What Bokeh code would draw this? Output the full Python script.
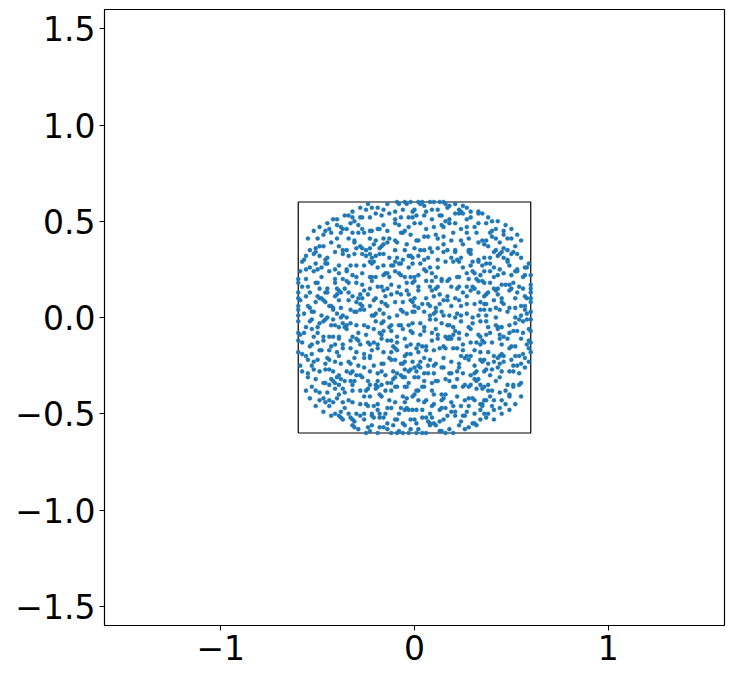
from bokeh.plotting import figure
from bokeh.models import Range1d, FixedTicker
from bokeh.embed import file_html
from bokeh.resources import INLINE

# ---------------- data ----------------
x_ticks = [-1, 0, 1]
x_tick_labels = ["\u22121", "0", "1"]
y_ticks = [-1.5, -1.0, -0.5, 0.0, 0.5, 1.0, 1.5]
y_tick_labels = ["\u22121.5", "\u22121.0", "\u22120.5", "0.0", "0.5", "1.0", "1.5"]

box_x = [-0.6, 0.6, 0.6, -0.6, -0.6]
box_y = [-0.6, -0.6, 0.6, 0.6, -0.6]

band_t1 = [(-.32,.55),(-.28,.57),(-.25,.56),(-.22,.57),(-.19,.57),(-.16,.56),(-.14,.59),(-.10,.55),(-.08,.59),(-.06,.56),(-.04,.59),(-.01,.55),(.00,.56),(.03,.59),(.05,.58),(.06,.55),(.09,.56),(.12,.56),(.16,.59),(.17,.57),(.18,.58),(.21,.59),(.23,.56),(.24,.55),(.25,.58),(.29,.55),(.33,.55),(-.24,.59),(.27,.57)]
edge_top = [(-.09,.60),(-.05,.60),(-.02,.60),(.02,.60),(.04,.60),(.08,.60),(.10,.60),(.13,.60),(.15,.60)]
band_t2 = [(-.40,.51),(-.36,.53),(-.34,.53),(-.32,.52),(-.31,.50),(-.28,.52),(-.27,.52),(-.23,.52),(-.20,.54),(-.17,.53),(-.13,.54),(-.10,.51),(-.07,.52),(-.03,.52),(-.01,.52),(.01,.53),(.05,.53),(.09,.51),(.13,.53),(.14,.53),(.16,.50),(.18,.51),(.21,.54),(.23,.54),(.25,.54),(.27,.51),(.29,.52),(.33,.54),(.35,.54),(.38,.52),(.40,.50)]
band_t3 = [(-.46,.45),(-.44,.46),(-.40,.48),(-.38,.47),(-.37,.46),(-.35,.46),(-.33,.49),(-.29,.48),(-.27,.46),(-.23,.45),(-.22,.45),(-.19,.46),(-.18,.46),(-.16,.48),(-.14,.45),(-.10,.49),(-.08,.48),(-.05,.45),(-.03,.47),(.00,.49),(.03,.49),(.06,.46),(.10,.47),(.14,.48),(.15,.47),(.18,.49),(.21,.49),(.24,.46),(.27,.47),(.31,.47),(.33,.49),(.37,.49),(.40,.45),(.42,.46),(.46,.45)]
band_t4 = [(-.50,.41),(-.47,.43),(-.43,.44),(-.40,.41),(-.38,.44),(-.34,.41),(-.32,.44),(-.31,.40),(-.29,.44),(-.26,.44),(-.23,.41),(-.20,.40),(-.16,.41),(-.13,.41),(-.10,.40),(-.07,.44),(-.06,.44),(-.02,.43),(.01,.40),(.02,.40),(.05,.42),(.07,.42),(.11,.43),(.12,.41),(.15,.42),(.19,.40),(.20,.44),(.24,.40),(.27,.44),(.28,.41),(.32,.44),(.35,.40),(.37,.40),(.39,.44),(.40,.42),(.42,.41),(.46,.43),(.48,.41),(.50,.41)]
band_t5 = [(-.54,.35),(-.51,.36),(-.49,.37),(-.47,.37),(-.43,.39),(-.39,.37),(-.37,.35),(-.35,.35),(-.31,.39),(-.30,.36),(-.28,.37),(-.27,.36),(-.25,.35),(-.23,.36),(-.21,.38),(-.18,.36),(-.17,.37),(-.16,.38),(-.14,.39),(-.10,.35),(-.09,.39),(-.05,.35),(-.04,.38),(.00,.36),(.03,.35),(.05,.35),(.08,.36),(.12,.36),(.15,.38),(.17,.35),(.21,.35),(.25,.38),(.28,.35),(.29,.35),(.33,.39),(.36,.38),(.38,.37),(.42,.35),(.44,.39),(.46,.36),(.48,.35),(.52,.37)]
band_t6 = [(-.56,.32),(-.52,.33),(-.51,.34),(-.49,.32),(-.46,.30),(-.45,.31),(-.41,.34),(-.37,.33),(-.34,.32),(-.31,.33),(-.27,.33),(-.25,.32),(-.23,.33),(-.22,.31),(-.20,.32),(-.18,.33),(-.16,.33),(-.13,.31),(-.09,.31),(-.06,.30),(-.03,.32),(-.02,.32),(-.01,.31),(.02,.32),(.05,.30),(.07,.31),(.09,.34),(.12,.30),(.15,.34),(.19,.31),(.21,.34),(.22,.30),(.24,.31),(.28,.34),(.29,.33),(.33,.30),(.36,.31),(.39,.31),(.41,.34),(.43,.32),(.44,.33),(.45,.34),(.46,.31),(.48,.30),(.50,.33),(.51,.34),(.53,.33),(.55,.31),(-.57,.30)]
band_t7 = [(-.58,.29),(-.56,.25),(-.54,.26),(-.51,.28),(-.50,.25),(-.48,.26),(-.46,.28),(-.45,.28),(-.41,.25),(-.39,.27),(-.35,.25),(-.33,.27),(-.30,.27),(-.26,.27),(-.23,.29),(-.22,.28),(-.21,.29),(-.19,.26),(-.16,.27),(-.12,.27),(-.11,.27),(-.10,.29),(-.08,.28),(-.07,.28),(-.03,.26),(-.01,.28),(.03,.28),(.05,.25),(.08,.26),(.12,.26),(.16,.29),(.20,.29),(.23,.29),(.25,.26),(.29,.27),(.30,.29),(.33,.29),(.35,.27),(.37,.28),(.39,.28),(.41,.26),(.44,.25),(.48,.29),(.49,.27),(.53,.25),(.57,.26),(.58,.26),(.59,.28)]
band_t8 = [(-.60,.20),(-.59,.24),(-.56,.20),(-.52,.24),(-.48,.21),(-.44,.24),(-.41,.20),(-.39,.23),(-.37,.20),(-.35,.24),(-.32,.22),(-.30,.21),(-.27,.23),(-.23,.21),(-.22,.21),(-.20,.21),(-.16,.22),(-.15,.23),(-.14,.23),(-.13,.21),(-.10,.24),(-.08,.23),(-.07,.22),(-.05,.21),(-.02,.21),(.00,.21),(.02,.22),(.06,.24),(.09,.23),(.11,.21),(.14,.20),(.18,.20),(.22,.21),(.23,.21),(.27,.23),(.28,.20),(.30,.24),(.31,.23),(.32,.20),(.34,.22),(.36,.24),(.39,.24),(.41,.21),(.43,.22),(.46,.23),(.50,.22),(.52,.24),(.53,.24),(.56,.21),(.57,.22),(.60,.22)]
band_t9 = [(-.58,.16),(-.55,.16),(-.51,.18),(-.50,.18),(-.49,.15),(-.45,.15),(-.41,.18),(-.40,.15),(-.36,.15),(-.35,.19),(-.34,.18),(-.30,.18),(-.27,.17),(-.23,.15),(-.22,.19),(-.19,.16),(-.17,.16),(-.14,.15),(-.12,.17),(-.08,.16),(-.04,.18),(-.01,.18),(.00,.19),(.02,.16),(.06,.19),(.08,.16),(.09,.19),(.11,.15),(.12,.16),(.14,.19),(.17,.19),(.19,.16),(.22,.15),(.23,.16),(.27,.16),(.30,.16),(.31,.15),(.33,.19),(.35,.19),(.36,.18),(.39,.18),(.41,.15),(.43,.15),(.45,.17),(.47,.17),(.49,.17),(.50,.15),(.51,.18),(.54,.16),(.56,.15),(.60,.17),(-.60,.18),(.60,.15)]
band_t10 = [(-.60,.10),(-.56,.11),(-.54,.13),(-.50,.11),(-.49,.10),(-.48,.10),(-.46,.13),(-.45,.13),(-.41,.11),(-.40,.12),(-.39,.14),(-.38,.13),(-.34,.13),(-.32,.11),(-.29,.10),(-.28,.12),(-.27,.10),(-.26,.14),(-.24,.12),(-.20,.10),(-.16,.14),(-.15,.11),(-.12,.12),(-.09,.13),(-.07,.12),(-.04,.14),(-.03,.12),(.00,.10),(.02,.14),(.06,.10),(.09,.14),(.10,.11),(.13,.12),(.17,.11),(.21,.10),(.25,.13),(.27,.11),(.29,.14),(.33,.13),(.36,.11),(.37,.12),(.38,.13),(.42,.14),(.43,.12),(.45,.10),(.49,.14),(.52,.10),(.53,.13),(.57,.11),(.58,.10),(.60,.10),(-.60,.13),(.60,.13)]
band_t11 = [(-.59,.09),(-.55,.06),(-.54,.05),(-.51,.08),(-.47,.09),(-.46,.08),(-.44,.06),(-.43,.06),(-.42,.05),(-.39,.09),(-.38,.05),(-.34,.09),(-.30,.08),(-.28,.07),(-.27,.06),(-.23,.06),(-.21,.09),(-.17,.08),(-.15,.07),(-.14,.06),(-.10,.08),(-.06,.08),(-.02,.09),(-.01,.08),(.00,.06),(.02,.05),(.04,.07),(.07,.07),(.08,.06),(.11,.05),(.13,.07),(.15,.09),(.17,.09),(.19,.06),(.23,.09),(.24,.06),(.27,.07),(.31,.07),(.34,.08),(.36,.07),(.37,.07),(.41,.09),(.42,.05),(.45,.08),(.46,.07),(.49,.05),(.52,.05),(.55,.06),(.57,.06),(.60,.08),(-.60,.06)]
band_t12 = [(-.60,.04),(-.57,.02),(-.53,.03),(-.52,.03),(-.48,.01),(-.45,.00),(-.42,.04),(-.40,.02),(-.38,.00),(-.37,.01),(-.35,.00),(-.33,.04),(-.31,.03),(-.30,.03),(-.28,.04),(-.26,.04),(-.22,.01),(-.21,.01),(-.20,.02),(-.18,.04),(-.16,.02),(-.13,.00),(-.09,.01),(-.07,.04),(-.06,.03),(-.04,.02),(-.01,.03),(.00,.03),(.05,.03),(.08,.01),(.10,.02),(.11,.03),(.14,.03),(.15,.01),(.18,.01),(.21,.00),(.22,.02),(.24,.01),(.27,.02),(.30,.00),(.33,.01),(.34,.04),(.36,.04),(.37,.01),(.39,.04),(.42,.00),(.44,.04),(.48,.03),(.52,.00),(.55,.01),(.57,.04),(.58,.02),(.60,.03),(-.60,.01)]

band_b12 = [(-.60,-.02),(-.56,-.05),(-.54,-.02),(-.53,-.01),(-.50,-.05),(-.49,-.03),(-.47,-.02),(-.46,-.01),(-.43,-.04),(-.42,-.01),(-.41,-.04),(-.39,-.05),(-.37,-.03),(-.36,-.05),(-.35,-.04),(-.33,-.03),(-.30,-.04),(-.26,-.04),(-.24,-.05),(-.20,-.02),(-.17,-.03),(-.16,-.02),(-.13,-.05),(-.12,-.04),(-.08,-.04),(-.07,-.04),(-.03,-.04),(-.01,-.03),(.03,-.03),(.05,-.05),(.08,-.01),(.11,-.01),(.14,-.03),(.17,-.04),(.18,-.04),(.20,-.05),(.24,-.02),(.28,-.05),(.30,-.03),(.34,-.02),(.37,-.02),(.38,-.05),(.42,-.04),(.43,-.05),(.45,-.05),(.49,-.04),(.52,-.03),(.54,-.01),(.56,-.02),(.58,-.01),(.60,-.01)]
band_b11 = [(-.59,-.09),(-.57,-.08),(-.53,-.06),(-.52,-.10),(-.50,-.08),(-.47,-.10),(-.44,-.10),(-.42,-.10),(-.39,-.10),(-.35,-.06),(-.32,-.10),(-.29,-.08),(-.25,-.09),(-.21,-.06),(-.18,-.08),(-.17,-.09),(-.16,-.07),(-.12,-.07),(-.09,-.10),(-.06,-.06),(-.02,-.07),(-.01,-.08),(.03,-.09),(.05,-.07),(.09,-.08),(.11,-.06),(.12,-.09),(.16,-.10),(.18,-.10),(.20,-.09),(.21,-.07),(.23,-.08),(.27,-.09),(.29,-.06),(.33,-.09),(.34,-.10),(.37,-.09),(.39,-.08),(.43,-.06),(.44,-.09),(.46,-.10),(.49,-.08),(.51,-.07),(.53,-.07),(.56,-.08),(.59,-.06),(.60,-.07),(-.60,-.08)]
band_b10 = [(-.58,-.13),(-.54,-.15),(-.53,-.14),(-.50,-.13),(-.47,-.12),(-.43,-.15),(-.41,-.14),(-.39,-.11),(-.37,-.14),(-.33,-.12),(-.30,-.11),(-.29,-.12),(-.28,-.14),(-.24,-.13),(-.23,-.14),(-.21,-.13),(-.19,-.14),(-.17,-.11),(-.14,-.12),(-.12,-.12),(-.11,-.15),(-.09,-.13),(-.05,-.11),(-.04,-.15),(-.02,-.14),(.02,-.14),(.04,-.15),(.06,-.15),(.09,-.12),(.12,-.11),(.15,-.15),(.17,-.11),(.18,-.11),(.19,-.11),(.23,-.11),(.25,-.14),(.29,-.13),(.32,-.13),(.34,-.14),(.35,-.12),(.36,-.13),(.40,-.13),(.44,-.11),(.45,-.14),(.48,-.11),(.50,-.15),(.52,-.15),(.55,-.11),(.58,-.14),(.59,-.12),(.60,-.13),(-.60,-.12)]
band_b9 = [(-.60,-.18),(-.58,-.19),(-.56,-.20),(-.53,-.19),(-.49,-.17),(-.48,-.17),(-.44,-.17),(-.40,-.18),(-.39,-.20),(-.37,-.16),(-.33,-.16),(-.30,-.18),(-.26,-.19),(-.23,-.20),(-.22,-.17),(-.19,-.16),(-.16,-.18),(-.12,-.18),(-.10,-.16),(-.09,-.17),(-.05,-.20),(-.04,-.19),(-.02,-.19),(.01,-.16),(.02,-.18),(.06,-.17),(.10,-.17),(.13,-.16),(.16,-.16),(.20,-.16),(.22,-.16),(.24,-.20),(.25,-.17),(.27,-.20),(.29,-.20),(.31,-.17),(.34,-.18),(.38,-.18),(.41,-.20),(.44,-.20),(.45,-.19),(.46,-.20),(.49,-.16),(.52,-.20),(.54,-.20),(.56,-.19),(.59,-.16),(.60,-.18)]
band_b8 = [(-.59,-.25),(-.55,-.22),(-.53,-.25),(-.52,-.23),(-.50,-.22),(-.46,-.24),(-.45,-.21),(-.44,-.22),(-.41,-.23),(-.38,-.24),(-.34,-.23),(-.33,-.24),(-.31,-.21),(-.29,-.25),(-.26,-.21),(-.23,-.21),(-.21,-.25),(-.17,-.24),(-.16,-.24),(-.13,-.21),(-.12,-.22),(-.10,-.22),(-.07,-.24),(-.06,-.24),(-.05,-.23),(-.01,-.23),(.02,-.25),(.03,-.23),(.05,-.21),(.07,-.25),(.08,-.22),(.10,-.25),(.11,-.24),(.15,-.21),(.19,-.23),(.23,-.24),(.26,-.21),(.28,-.22),(.31,-.25),(.34,-.22),(.35,-.23),(.36,-.22),(.38,-.24),(.41,-.23),(.43,-.21),(.44,-.24),(.46,-.23),(.50,-.22),(.51,-.25),(.53,-.25),(.55,-.24),(.57,-.21),(.59,-.23)]
band_b7 = [(-.58,-.28),(-.55,-.29),(-.52,-.27),(-.49,-.28),(-.46,-.27),(-.44,-.27),(-.42,-.28),(-.39,-.30),(-.35,-.28),(-.33,-.29),(-.32,-.28),(-.30,-.30),(-.28,-.30),(-.26,-.26),(-.23,-.28),(-.19,-.29),(-.17,-.28),(-.15,-.30),(-.11,-.28),(-.09,-.29),(-.07,-.30),(-.05,-.27),(-.03,-.28),(-.02,-.27),(.00,-.26),(.01,-.28),(.03,-.26),(.05,-.29),(.07,-.29),(.10,-.29),(.14,-.26),(.15,-.26),(.18,-.29),(.19,-.29),(.22,-.28),(.23,-.26),(.25,-.29),(.29,-.30),(.31,-.29),(.32,-.28),(.36,-.28),(.37,-.27),(.39,-.30),(.40,-.27),(.43,-.26),(.45,-.28),(.49,-.28),(.51,-.28),(.54,-.29),(.57,-.26)]
band_b6 = [(-.55,-.31),(-.51,-.32),(-.47,-.34),(-.46,-.34),(-.44,-.35),(-.43,-.32),(-.42,-.33),(-.41,-.34),(-.40,-.31),(-.39,-.35),(-.38,-.32),(-.36,-.33),(-.33,-.33),(-.32,-.35),(-.31,-.33),(-.27,-.31),(-.24,-.33),(-.23,-.35),(-.20,-.35),(-.19,-.33),(-.17,-.35),(-.14,-.34),(-.12,-.34),(-.11,-.32),(-.10,-.31),(-.06,-.31),(-.05,-.31),(-.03,-.34),(.00,-.31),(.02,-.31),(.05,-.33),(.09,-.34),(.11,-.33),(.12,-.33),(.16,-.32),(.18,-.33),(.22,-.32),(.26,-.35),(.29,-.35),(.31,-.32),(.32,-.33),(.33,-.32),(.34,-.35),(.38,-.35),(.42,-.33),(.44,-.31),(.48,-.35),(.51,-.35),(.54,-.35),(.55,-.34)]
band_b5 = [(-.53,-.36),(-.49,-.39),(-.45,-.39),(-.41,-.37),(-.39,-.40),(-.37,-.37),(-.36,-.39),(-.32,-.38),(-.28,-.38),(-.25,-.38),(-.24,-.37),(-.20,-.37),(-.19,-.36),(-.18,-.40),(-.15,-.38),(-.12,-.38),(-.10,-.36),(-.09,-.36),(-.05,-.36),(-.04,-.36),(.00,-.40),(.01,-.38),(.02,-.38),(.04,-.36),(.05,-.36),(.09,-.38),(.10,-.40),(.14,-.40),(.16,-.40),(.20,-.36),(.21,-.36),(.25,-.36),(.28,-.36),(.32,-.37),(.35,-.37),(.36,-.36),(.38,-.38),(.40,-.38),(.44,-.39),(.47,-.38),(.51,-.36),(.49,-.40),(-.51,-.38)]
band_b4 = [(-.49,-.43),(-.47,-.42),(-.46,-.44),(-.44,-.43),(-.42,-.44),(-.40,-.42),(-.37,-.44),(-.34,-.43),(-.32,-.44),(-.28,-.45),(-.26,-.41),(-.25,-.45),(-.23,-.41),(-.19,-.45),(-.17,-.41),(-.13,-.43),(-.10,-.44),(-.06,-.41),(-.05,-.44),(-.04,-.42),(-.01,-.41),(.02,-.43),(.05,-.44),(.06,-.43),(.10,-.45),(.14,-.43),(.15,-.42),(.19,-.44),(.22,-.41),(.26,-.43),(.28,-.42),(.30,-.42),(.31,-.43),(.34,-.45),(.35,-.45),(.36,-.43),(.37,-.43),(.39,-.41),(.41,-.43),(.45,-.43),(.47,-.45),(.49,-.41)]
band_b3 = [(-.44,-.46),(-.41,-.50),(-.38,-.49),(-.36,-.47),(-.34,-.50),(-.30,-.50),(-.26,-.50),(-.24,-.46),(-.22,-.50),(-.21,-.46),(-.19,-.48),(-.18,-.50),(-.15,-.50),(-.14,-.47),(-.12,-.47),(-.08,-.50),(-.07,-.47),(-.05,-.48),(-.04,-.47),(-.03,-.48),(-.01,-.48),(.01,-.48),(.04,-.48),(.08,-.50),(.09,-.46),(.13,-.48),(.14,-.47),(.16,-.47),(.19,-.49),(.20,-.46),(.21,-.49),(.24,-.46),(.27,-.49),(.28,-.46),(.31,-.50),(.34,-.48),(.35,-.46),(.36,-.50),(.38,-.50),(.40,-.46),(.41,-.48),(.44,-.47)]
band_b2 = [(-.39,-.51),(-.38,-.52),(-.37,-.53),(-.33,-.52),(-.32,-.53),(-.31,-.54),(-.28,-.51),(-.26,-.53),(-.22,-.51),(-.21,-.52),(-.18,-.52),(-.16,-.52),(-.14,-.55),(-.10,-.53),(-.09,-.53),(-.06,-.55),(-.02,-.53),(.00,-.53),(.01,-.55),(.04,-.52),(.06,-.52),(.07,-.54),(.08,-.55),(.09,-.52),(.10,-.55),(.13,-.54),(.15,-.53),(.17,-.51),(.21,-.51),(.24,-.54),(.25,-.51),(.26,-.51),(.30,-.55),(.31,-.55),(.34,-.53),(.37,-.52)]
band_b1 = [(-.32,-.56),(-.31,-.57),(-.29,-.58),(-.25,-.60),(-.24,-.57),(-.23,-.59),(-.22,-.56),(-.19,-.60),(-.18,-.57),(-.16,-.57),(-.14,-.58),(-.12,-.60),(-.11,-.56),(-.09,-.60),(-.08,-.59),(-.05,-.56),(-.02,-.58),(.02,-.58),(.04,-.60),(.08,-.56),(.11,-.56),(.13,-.59),(.14,-.59),(.16,-.60),(.18,-.58),(.20,-.60),(.23,-.56),(.26,-.58),(.28,-.57),(.32,-.56)]
edge_bottom = [(-.06,-.60),(-.03,-.60),(.01,-.60),(.06,-.60)]
corners = [(-.52,.45),(-.49,.47),(-.55,.41),(-.45,.49),(-.42,.51),(.50,.46),(.53,.43),(.47,.48),(.55,.40),(.43,.50),
           (-.51,-.46),(-.54,-.42),(-.47,-.49),(-.56,-.38),(-.43,-.51),(.52,-.45),(.49,-.48),(.55,-.41),(.45,-.50),(.41,-.53)]

all_bands = [band_t1, edge_top, band_t2, band_t3, band_t4, band_t5, band_t6, band_t7,
             band_t8, band_t9, band_t10, band_t11, band_t12,
             band_b12, band_b11, band_b10, band_b9, band_b8, band_b7, band_b6,
             band_b5, band_b4, band_b3, band_b2, band_b1, edge_bottom, corners]
xs = [pt[0] for band in all_bands for pt in band]
ys = [pt[1] for band in all_bands for pt in band]

# ---------------- figure ----------------
p = figure(width=734, height=679,
           x_range=Range1d(-1.6, 1.6), y_range=Range1d(-1.6, 1.6),
           output_backend="svg", toolbar_location=None,
           min_border_left=104, min_border_right=10,
           min_border_top=9, min_border_bottom=54)
p.xgrid.visible = False
p.ygrid.visible = False
p.background_fill_color = "white"
p.border_fill_color = "white"
p.outline_line_color = "black"
p.outline_line_width = 1.2
p.outline_line_alpha = 1.0

p.xaxis.ticker = FixedTicker(ticks=x_ticks)
p.xaxis.major_label_overrides = {float(t): l for t, l in zip(x_ticks, x_tick_labels)}
p.yaxis.ticker = FixedTicker(ticks=y_ticks)
p.yaxis.major_label_overrides = {float(t): l for t, l in zip(y_ticks, y_tick_labels)}

for ax in (p.xaxis[0], p.yaxis[0]):
    ax.axis_line_color = None
    ax.major_tick_line_color = "black"
    ax.major_tick_line_width = 1
    ax.major_tick_out = 5
    ax.major_tick_in = 0
    ax.minor_tick_line_color = None
    ax.major_label_text_font = "DejaVu Sans"
    ax.major_label_text_font_size = "33px"
    ax.major_label_text_color = "black"
    ax.major_label_standoff = 4

p.line(box_x, box_y, line_color="black", line_width=1.2)
p.scatter(xs, ys, size=4.1, fill_color="#1f77b4", line_color="#1f77b4", line_width=0.4)

open("out.html", "w").write(file_html(p, INLINE))
